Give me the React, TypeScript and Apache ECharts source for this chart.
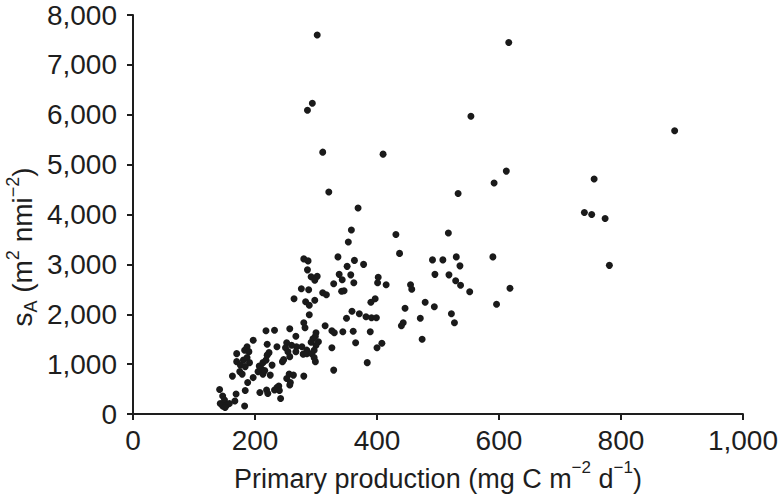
import React, { useEffect, useRef } from "react";
import * as echarts from "echarts";

// Primary production (mg C m^-2 d^-1)
const primaryProduction: number[] = [
  302, 616, 294, 286, 554, 311, 410, 888, 612, 592, 321, 533, 756, 369, 740, 752, 774, 781,
  431, 517, 437, 491, 508, 530, 536, 590, 495, 518, 529, 537, 552, 618, 415, 455, 457, 596,
  479, 494, 446, 471, 522, 527, 443, 440, 474, 408,
  358, 353, 280, 287, 336, 363, 351, 378, 286, 338, 357, 292, 302, 298, 343, 402, 401, 329,
  362, 276, 288, 342, 346, 311, 317, 264, 283, 289, 298, 397, 390, 289, 359, 371, 350, 382,
  391, 399,
  280, 282, 315, 218, 232, 267, 300, 299, 295, 304, 292, 300, 297, 285, 277, 268, 260, 252,
  250, 197, 187, 183, 190, 170, 220, 236, 254, 267, 279, 285, 293, 170, 181, 187, 176, 191,
  184, 207, 213, 218, 220, 223, 228, 245, 247, 257, 297, 299, 163, 175, 179, 188, 197, 210,
  205, 213, 216, 225, 256, 263, 280, 252, 258, 142, 169, 184, 208, 219, 221, 232, 236, 239,
  240, 242, 257, 147, 150, 143, 147, 154, 158, 151, 167, 183,
  257, 326, 330, 344, 361, 389, 365, 400, 326, 384, 329,
];

// s_A (m^2 nmi^-2)
const sA: number[] = [
  7600, 7450, 6230, 6090, 5970, 5250, 5210, 5680, 4870, 4630, 4450, 4420, 4710, 4130, 4040, 4000, 3920, 2980,
  3600, 3630, 3220, 3090, 3090, 3150, 2970, 3150, 2800, 2790, 2670, 2580, 2450, 2520, 2590, 2590, 2500, 2200,
  2240, 2150, 2120, 1920, 2010, 1830, 1830, 1770, 1500, 1420,
  3690, 3450, 3110, 3070, 3150, 3080, 2960, 3000, 2890, 2800, 2790, 2750, 2760, 2680, 2690, 2740, 2630, 2610,
  2630, 2510, 2490, 2460, 2470, 2430, 2390, 2310, 2250, 2180, 2280, 2310, 2240, 1990, 2060, 2010, 1920, 1950,
  1930, 1930,
  1830, 1730, 1770, 1670, 1680, 1560, 1630, 1560, 1510, 1450, 1440, 1380, 1280, 1280, 1350, 1350, 1380, 1430,
  1330, 1480, 1350, 1280, 1250, 1210, 1400, 1350, 1250, 1250, 1200, 1210, 1210, 1050, 1080, 1130, 980, 1030,
  950, 960, 1030, 1080, 1180, 1230, 980, 1050, 1090, 1150, 1130, 1050, 760, 850, 800, 630, 730, 910,
  850, 800, 870, 780, 800, 780, 760, 710, 630, 490, 400, 470, 430, 480, 410, 480, 530, 560,
  470, 310, 580, 360, 280, 210, 160, 180, 210, 130, 260, 160,
  1710, 1670, 1630, 1650, 1660, 1650, 1430, 1330, 1330, 1030, 880,
];

const xTicks = { min: 0, max: 1000, interval: 200 };
const yTicks = { min: 0, max: 8000, interval: 1000 };

const fmt = (v: number) => v.toLocaleString("en-US");

export default function App() {
  const ref = useRef<HTMLDivElement>(null);
  useEffect(() => {
    if (!ref.current) return;
    document.body.style.margin = "0";
    const chart = echarts.init(ref.current, null, { renderer: "svg" });
    const data = primaryProduction.map((x, i) => [x, sA[i]]);
    const font = "'Liberation Sans', Arial, Helvetica, sans-serif";
    const ink = "#1e1e1e";
    chart.setOption({
      animation: false,
      backgroundColor: "#ffffff",
      textStyle: { fontFamily: font },
      grid: { left: 133, right: 38, top: 15, bottom: 86, containLabel: false },
      xAxis: {
        type: "value",
        min: xTicks.min,
        max: xTicks.max,
        interval: xTicks.interval,
        splitLine: { show: false },
        axisLine: { show: true, onZero: false, lineStyle: { color: ink, width: 2 } },
        axisTick: { show: true, inside: false, length: 6, lineStyle: { color: ink, width: 2 } },
        axisLabel: { color: ink, fontSize: 28, fontFamily: font, margin: 12, formatter: fmt },
        name: "{n|Primary production (mg C m}{s|−2}{n| d}{s|−1}{n|)}",
        nameLocation: "middle",
        nameGap: 43,
        nameTextStyle: {
          rich: {
            n: { fontSize: 27, fontFamily: font, color: ink, lineHeight: 34, verticalAlign: "bottom" },
            s: { fontSize: 17, fontFamily: font, color: ink, lineHeight: 34, verticalAlign: "top" },
          },
        },
      },
      yAxis: {
        type: "value",
        min: yTicks.min,
        max: yTicks.max,
        interval: yTicks.interval,
        splitLine: { show: false },
        axisLine: { show: true, onZero: false, lineStyle: { color: ink, width: 2 } },
        axisTick: { show: true, inside: false, length: 6, lineStyle: { color: ink, width: 2 } },
        axisLabel: { color: ink, fontSize: 28, fontFamily: font, margin: 16, formatter: fmt },
      },
      graphic: [
        {
          type: "text",
          x: 22,
          y: 247,
          rotation: Math.PI / 2,
          style: {
            text: "{n|s}{b|A}{n| (m}{s|2}{n| nmi}{s|−2}{n|)}",
            align: "center",
            verticalAlign: "middle",
            rich: {
              n: { fontSize: 28, fontFamily: font, fill: ink, lineHeight: 36, verticalAlign: "middle" },
              s: { fontSize: 18, fontFamily: font, fill: ink, lineHeight: 36, verticalAlign: "top" },
              b: { fontSize: 18, fontFamily: font, fill: ink, lineHeight: 36, verticalAlign: "bottom" },
            },
          },
        },
      ],
      series: [
        {
          type: "scatter",
          data,
          symbol: "circle",
          symbolSize: 7,
          itemStyle: { color: "#1a1a1a", opacity: 1 },
        },
      ],
    });
    return () => chart.dispose();
  }, []);
  return <div ref={ref} style={{ position: "fixed", left: 0, top: 0, width: 781, height: 500 }} />;
}
